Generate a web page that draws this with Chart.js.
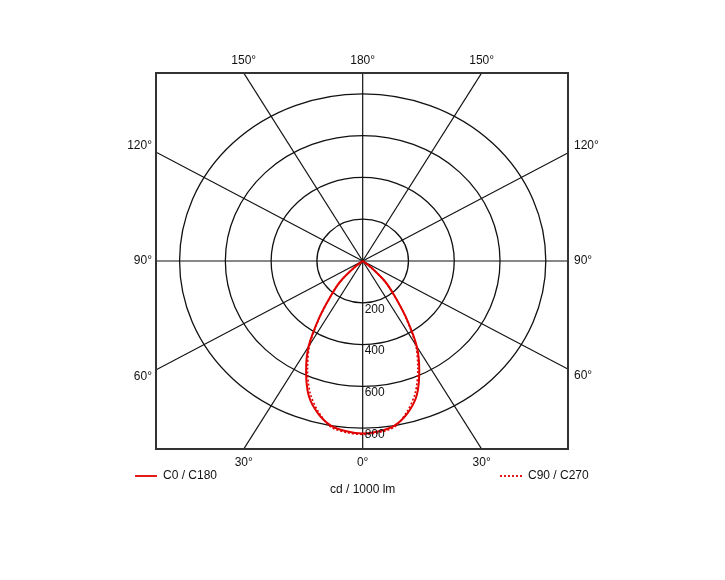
<!DOCTYPE html>
<html>
<head>
<meta charset="utf-8">
<script src="https://cdn.jsdelivr.net/npm/chart.js@4/dist/chart.umd.min.js"></script>
<style>
  html, body { margin: 0; padding: 0; background: #fff; }
  #wrap { width: 725px; height: 580px; }
</style>
</head>
<body>
<div id="wrap"><canvas id="polarChart" width="725" height="580"></canvas></div>
<script>
// gamma angles (0 = straight down) and intensities in cd / 1000 lm
const gammaDeg = [0, 5, 10, 15, 20, 25, 30, 35, 40, 45, 50, 55, 60, 90];
const c0c180 = [826, 818, 800, 755, 688, 585, 473, 330, 215, 137, 45, 0, 0, 0];
const c90c270 = [830, 824, 806, 747, 672, 570, 462, 325, 212, 133, 44, 0, 0, 0];

// grid
const ringValues = [200, 400, 600, 800];
const spokeAngles = [0, 30, 60, 90, 120, 150, 180, 210, 240, 270, 300, 330];
const angleLabelSet = [0, 30, 60, 90, 120, 150, 180, 210, 240, 270, 300, 330];

const seriesNames = ['C0 / C180', 'C90 / C270'];
const unitLabel = 'cd / 1000 lm';

const FONT = '12px "Liberation Sans", Arial, sans-serif';
const RED = '#e00000';

function toPoints(values) {
    // left half (C180 / C270) from 90 deg down to 0, then right half back up
    const pts = [];
    for (let i = gammaDeg.length - 1; i >= 1; i--) {
        const g = gammaDeg[i] * Math.PI / 180;
        pts.push({ x: -values[i] * Math.sin(g), y: -values[i] * Math.cos(g) });
    }
    for (let i = 0; i < gammaDeg.length; i++) {
        const g = gammaDeg[i] * Math.PI / 180;
        pts.push({ x: values[i] * Math.sin(g), y: -values[i] * Math.cos(g) });
    }
    return pts;
}

const polarGrid = {
    id: 'polarGrid',
    beforeDatasetsDraw(chart) {
        const ctx = chart.ctx;
        const a = chart.chartArea;
        const xs = chart.scales.x, ys = chart.scales.y;
        const cx = xs.getPixelForValue(0), cy = ys.getPixelForValue(0);
        ctx.save();
        ctx.beginPath();
        ctx.rect(a.left, a.top, a.right - a.left, a.bottom - a.top);
        ctx.clip();
        ctx.strokeStyle = '#111';
        ctx.lineWidth = 1.3;
        ringValues.forEach(r => {
            const rx = xs.getPixelForValue(r) - cx;
            const ry = cy - ys.getPixelForValue(r);
            ctx.beginPath();
            ctx.ellipse(cx, cy, rx, ry, 0, 0, Math.PI * 2);
            ctx.stroke();
        });
        ctx.lineWidth = 1.2;
        spokeAngles.forEach(d => {
            const g = d * Math.PI / 180;
            const far = 3000;
            ctx.beginPath();
            ctx.moveTo(cx, cy);
            ctx.lineTo(xs.getPixelForValue(far * Math.sin(g)), ys.getPixelForValue(-far * Math.cos(g)));
            ctx.stroke();
        });
        ctx.restore();
    },
    afterDraw(chart) {
        const ctx = chart.ctx;
        const a = chart.chartArea;
        const xs = chart.scales.x, ys = chart.scales.y;
        const cx = xs.getPixelForValue(0), cy = ys.getPixelForValue(0);
        ctx.save();
        // frame
        ctx.strokeStyle = '#333';
        ctx.lineWidth = 2;
        ctx.strokeRect(a.left, a.top, a.right - a.left, a.bottom - a.top);

        ctx.font = FONT;
        ctx.fillStyle = '#111';

        // ring values along the 0 deg spoke
        ctx.textAlign = 'left';
        ctx.textBaseline = 'middle';
        ringValues.forEach(r => {
            ctx.fillText(String(r), cx + 2, ys.getPixelForValue(-r) + 6.5);
        });

        // angle labels where the spokes meet the frame
        angleLabelSet.forEach(d => {
            const g = d * Math.PI / 180;
            const dx = xs.getPixelForValue(1000 * Math.sin(g)) - cx;
            const dy = ys.getPixelForValue(-1000 * Math.cos(g)) - cy;
            let t = Infinity, side = '';
            if (dx > 1e-6) { const tt = (a.right - cx) / dx; if (tt < t) { t = tt; side = 'right'; } }
            if (dx < -1e-6) { const tt = (a.left - cx) / dx; if (tt < t) { t = tt; side = 'left'; } }
            if (dy > 1e-6) { const tt = (a.bottom - cy) / dy; if (tt < t) { t = tt; side = 'bottom'; } }
            if (dy < -1e-6) { const tt = (a.top - cy) / dy; if (tt < t) { t = tt; side = 'top'; } }
            const hx = cx + dx * t, hy = cy + dy * t;
            const txt = (d <= 180 ? d : 360 - d) + '°';
            if (side === 'top') {
                ctx.textAlign = 'center';
                ctx.fillText(txt, hx, a.top - 12.5);
            } else if (side === 'bottom') {
                ctx.textAlign = 'center';
                ctx.fillText(txt, hx, a.bottom + 13.5);
            } else {
                const slope = dy / Math.abs(dx);
                ctx.textAlign = side === 'left' ? 'right' : 'left';
                const lx = side === 'left' ? a.left - 4 : a.right + 6;
                ctx.fillText(txt, lx, hy + slope * 13);
            }
        });

        // legend
        const ly = a.bottom + 27;
        ctx.strokeStyle = RED;
        ctx.lineWidth = 1.8;
        ctx.beginPath();
        ctx.moveTo(135, ly);
        ctx.lineTo(157, ly);
        ctx.stroke();
        ctx.textAlign = 'left';
        ctx.fillText(seriesNames[0], 163, ly);

        ctx.setLineDash([2, 2]);
        ctx.beginPath();
        ctx.moveTo(500, ly);
        ctx.lineTo(522, ly);
        ctx.stroke();
        ctx.setLineDash([]);
        ctx.fillText(seriesNames[1], 528, ly);

        ctx.textAlign = 'center';
        ctx.fillText(unitLabel, cx, ly + 14);
        ctx.restore();
    }
};

const ctx = document.getElementById('polarChart').getContext('2d');
const config = {
    type: 'scatter',
    data: {
        datasets: [
            {
                label: seriesNames[0],
                data: toPoints(c0c180),
                showLine: true,
                borderColor: RED,
                borderWidth: 2,
                pointRadius: 0,
                tension: 0.3,
                order: 1
            },
            {
                label: seriesNames[1],
                data: toPoints(c90c270),
                showLine: true,
                borderColor: RED,
                borderWidth: 1.6,
                borderDash: [2, 2],
                pointRadius: 0,
                tension: 0.3,
                order: 0
            }
        ]
    },
    options: {
        responsive: false,
        animation: false,
        layout: {
            padding: { left: 156, right: 157, top: 73, bottom: 131 }
        },
        plugins: {
            legend: { display: false },
            tooltip: { enabled: false }
        },
        scales: {
            x: { type: 'linear', min: -903, max: 897, display: false },
            y: { type: 'linear', min: -900, max: 900, display: false }
        }
    },
    plugins: [polarGrid]
};
const polarChart = new Chart(ctx, config);
</script>
</body>
</html>
